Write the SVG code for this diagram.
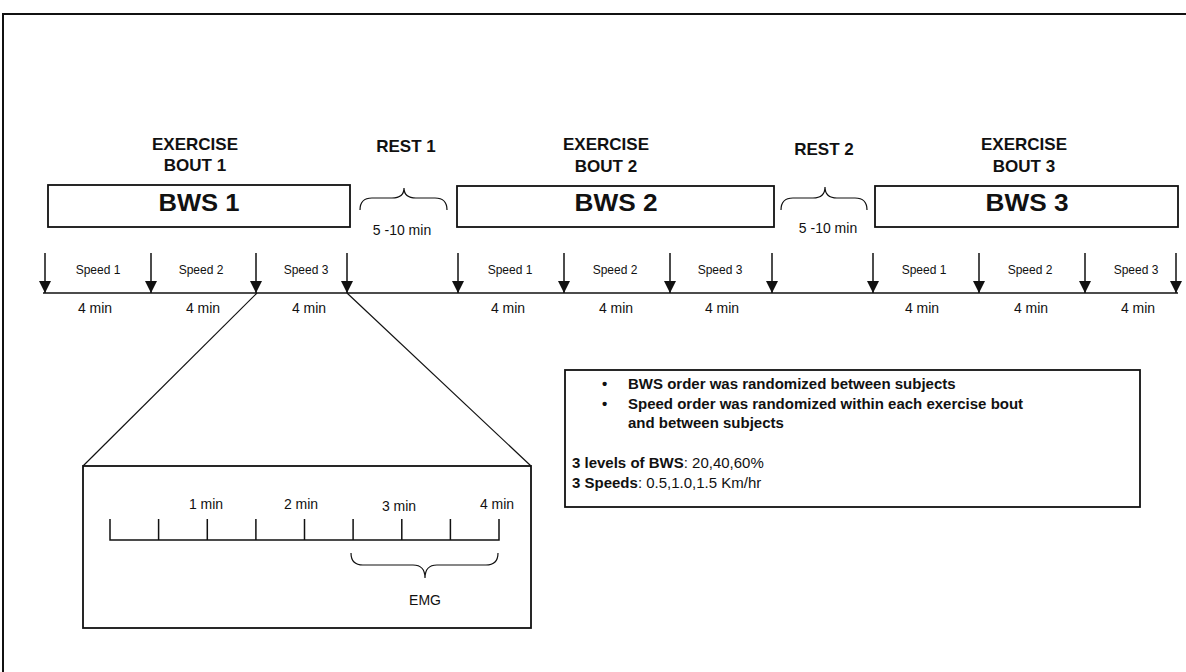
<svg xmlns="http://www.w3.org/2000/svg" width="1186" height="672" viewBox="0 0 1186 672">
<style>
  text { font-family: "Liberation Sans", Arial, sans-serif; fill: #111; }
  .hdr { font-size: 17px; font-weight: bold; text-anchor: middle; }
  .bws { font-size: 23px; font-weight: bold; text-anchor: middle; }
  .spd { font-size: 12px; text-anchor: middle; }
  .min { font-size: 14px; text-anchor: middle; }
  .info { font-size: 15px; }
  .b { font-weight: bold; }
  .box { fill: #fff; stroke: #111; stroke-width: 1.8; }
  .ln { fill: none; stroke: #111; stroke-width: 1.5; }
  .thin { fill: none; stroke: #111; stroke-width: 1.2; }
</style>
<defs>
  <marker id="ah" markerWidth="12" markerHeight="12" refX="12" refY="6" orient="auto" markerUnits="userSpaceOnUse" viewBox="0 0 12 12">
    <path d="M0,0 L12,6 L0,12 Z" fill="#111"/>
  </marker>
</defs>
<rect x="0" y="0" width="1186" height="672" fill="#fff"/>
<path d="M3,672 V14 H1186" fill="none" stroke="#111" stroke-width="2"/>

<g id="bout1">
  <text class="hdr" x="195" y="150">EXERCISE</text>
  <text class="hdr" x="195" y="171">BOUT 1</text>
  <rect class="box" x="48" y="185" width="302" height="42"/>
  <text class="bws" x="199" y="211" textLength="81" lengthAdjust="spacingAndGlyphs">BWS 1</text>
</g>
<g id="rest1">
  <text class="hdr" x="406" y="152">REST 1</text>
  <path class="thin" d="M360,210 Q360,198 372,198 L392,198 Q404,198 404,188 Q404,198 416,198 L435,198 Q447,198 447,210"/>
  <text class="min" x="402" y="235">5 -10 min</text>
</g>
<g id="bout2">
  <text class="hdr" x="606" y="150">EXERCISE</text>
  <text class="hdr" x="606" y="172">BOUT 2</text>
  <rect class="box" x="457" y="186" width="317" height="41"/>
  <text class="bws" x="616" y="211" textLength="83" lengthAdjust="spacingAndGlyphs">BWS 2</text>
</g>
<g id="rest2">
  <text class="hdr" x="824" y="155">REST 2</text>
  <path class="thin" d="M781,210 Q781,198 793,198 L813,198 Q825,198 825,187 Q825,198 837,198 L855,198 Q867,198 867,210"/>
  <text class="min" x="828" y="233">5 -10 min</text>
</g>
<g id="bout3">
  <text class="hdr" x="1024" y="150">EXERCISE</text>
  <text class="hdr" x="1024" y="172">BOUT 3</text>
  <rect class="box" x="875" y="186" width="303" height="41"/>
  <text class="bws" x="1027" y="211" textLength="83" lengthAdjust="spacingAndGlyphs">BWS 3</text>
</g>

<g id="timeline">
  <line class="ln" x1="43" y1="293" x2="1178" y2="293" stroke-width="2"/>
  <text class="spd" x="98" y="274">Speed 1</text>
  <text class="spd" x="201" y="274">Speed 2</text>
  <text class="spd" x="306" y="274">Speed 3</text>
  <text class="spd" x="510" y="274">Speed 1</text>
  <text class="spd" x="615" y="274">Speed 2</text>
  <text class="spd" x="720" y="274">Speed 3</text>
  <text class="spd" x="924" y="274">Speed 1</text>
  <text class="spd" x="1030" y="274">Speed 2</text>
  <text class="spd" x="1136" y="274">Speed 3</text>
  <text class="min" x="95" y="313">4 min</text>
  <text class="min" x="203" y="313">4 min</text>
  <text class="min" x="309" y="313">4 min</text>
  <text class="min" x="508" y="313">4 min</text>
  <text class="min" x="616" y="313">4 min</text>
  <text class="min" x="722" y="313">4 min</text>
  <text class="min" x="922" y="313">4 min</text>
  <text class="min" x="1031" y="313">4 min</text>
  <text class="min" x="1138" y="313">4 min</text>
</g>

<g id="inset">
  <rect class="box" x="83" y="466" width="448" height="162"/>
  <path class="ln" d="M110,519 V540 H499 V519 M158.6,519 V540 M207.3,519 V540 M255.9,519 V540 M304.5,519 V540 M353.1,519 V540 M401.8,519 V540 M450.4,519 V540"/>
  <text class="min" x="206" y="509">1 min</text>
  <text class="min" x="301" y="509">2 min</text>
  <text class="min" x="399" y="511">3 min</text>
  <text class="min" x="497" y="509">4 min</text>
  <path class="thin" d="M351,553 Q351,565 363,565 L413,565 Q425,565 425,578 Q425,565 437,565 L486,565 Q498,565 498,553"/>
  <text class="min" x="425" y="605">EMG</text>
</g>

<g id="info">
  <rect class="box" x="565" y="370" width="575" height="137"/>
  <text class="info b" x="602" y="389">•</text>
  <text class="info b" x="628" y="389">BWS order was randomized between subjects</text>
  <text class="info b" x="602" y="409">•</text>
  <text class="info b" x="628" y="409">Speed order was randomized within each exercise bout</text>
  <text class="info b" x="628" y="428">and between subjects</text>
  <text class="info" x="572" y="468"><tspan class="b">3 levels of BWS</tspan>: 20,40,60%</text>
  <text class="info" x="572" y="488"><tspan class="b">3 Speeds</tspan>: 0.5,1.0,1.5 Km/hr</text>
</g>

<g id="connectors">
  <line class="ln" x1="45" y1="253" x2="45" y2="293" marker-end="url(#ah)"/>
  <line class="ln" x1="151" y1="253" x2="151" y2="293" marker-end="url(#ah)"/>
  <line class="ln" x1="256" y1="253" x2="256" y2="293" marker-end="url(#ah)"/>
  <line class="ln" x1="347" y1="253" x2="347" y2="293" marker-end="url(#ah)"/>
  <line class="ln" x1="458" y1="253" x2="458" y2="293" marker-end="url(#ah)"/>
  <line class="ln" x1="564" y1="253" x2="564" y2="293" marker-end="url(#ah)"/>
  <line class="ln" x1="670" y1="253" x2="670" y2="293" marker-end="url(#ah)"/>
  <line class="ln" x1="772" y1="253" x2="772" y2="293" marker-end="url(#ah)"/>
  <line class="ln" x1="873" y1="253" x2="873" y2="293" marker-end="url(#ah)"/>
  <line class="ln" x1="979" y1="253" x2="979" y2="293" marker-end="url(#ah)"/>
  <line class="ln" x1="1085" y1="253" x2="1085" y2="293" marker-end="url(#ah)"/>
  <line class="ln" x1="1176" y1="253" x2="1176" y2="293" marker-end="url(#ah)"/>
  <line class="thin" x1="257" y1="293" x2="83" y2="466"/>
  <line class="thin" x1="347" y1="293" x2="531" y2="466"/>
</g>
</svg>
